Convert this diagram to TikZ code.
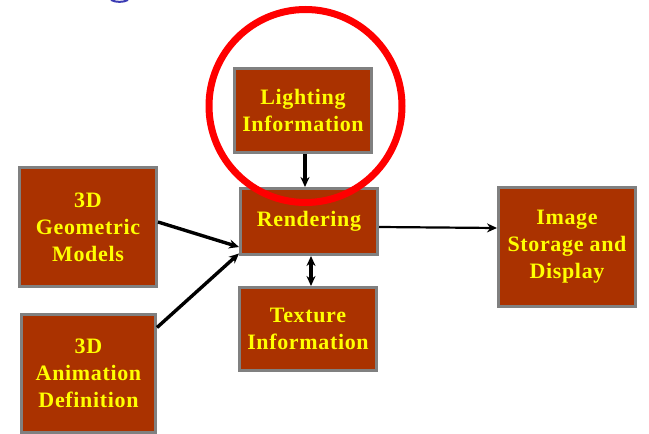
\documentclass[tikz,border=0pt]{standalone}
\usepackage{fontspec}
\setmainfont{Liberation Serif}[LetterSpace=3]
\usetikzlibrary{arrows.meta}
\definecolor{boxfill}{RGB}{170,50,0}
\definecolor{boxedge}{RGB}{128,128,128}
\definecolor{txtyellow}{RGB}{255,255,0}
\definecolor{ringred}{RGB}{255,0,0}
\definecolor{titleblue}{RGB}{60,60,180}
\tikzset{
  blk/.style={rectangle, draw=boxedge, fill=boxfill, line width=3pt,
    text=txtyellow, align=center, inner sep=0pt,
    font=\fontsize{22pt}{27pt}\selectfont\bfseries},
  conn/.style={line width=3.4pt, draw=black,
    -{Stealth[length=10pt,width=9pt]}},
  conn2/.style={line width=3.4pt, draw=black,
    {Stealth[length=10pt,width=9pt]}-{Stealth[length=10pt,width=9pt]}},
}
\begin{document}
\begin{tikzpicture}[x=1pt,y=-1pt]
  \useasboundingbox (0,0) rectangle (649,434);
  \fill[white] (0,0) rectangle (649,434);

  % fragment of the heading above the frame
  \draw[titleblue, line width=2pt] (111,0) .. controls (116,2.5) and (123,2.5) .. (128,0);

  % boxes
  \node[blk, minimum width=137pt, minimum height=84pt] (light) at (303,110.5) {Lighting\\Information};
  \node[blk, minimum width=137pt, minimum height=66pt] (rend) at (309,221.5) {Rendering};
  \node[blk, minimum width=137pt, minimum height=83pt] (tex) at (308,329) {Texture\\Information};
  \node[blk, minimum width=137pt, minimum height=119pt] (geo) at (88,227) {3D\\Geometric\\Models};
  \node[blk, minimum width=134pt, minimum height=118pt] (anim) at (88.5,373.5) {3D\\Animation\\Definition};
  \node[blk, minimum width=137pt, minimum height=119pt] (img) at (567,247) {Image\\Storage and\\Display};

  % connector end points on the box sides
  \coordinate (rendL1) at ([yshift=-25.5pt]rend.west);
  \coordinate (rendL2) at ([yshift=-32pt]rend.west);
  \coordinate (geoR) at ([yshift=5pt]geo.east);
  \coordinate (animR) at ([yshift=46pt]anim.east);
  \coordinate (rendR) at ([yshift=-5.5pt]rend.east);
  \coordinate (imgL) at ([yshift=19pt]img.west);

  % connectors
  \draw[conn] (light.south -| 305,0) -- (rend.north -| 305,0);
  \draw[conn2] (rend.south -| 311,0) -- (tex.north -| 311,0);
  \draw[conn] (geoR) -- (rendL1);
  \draw[conn] (animR) -- (rendL2);
  \draw[conn, line width=2.2pt] (rendR) -- (imgL);

  % highlight ring
  \draw[ringred, line width=7pt] (305.5,106) circle (96.5);
\end{tikzpicture}
\end{document}
